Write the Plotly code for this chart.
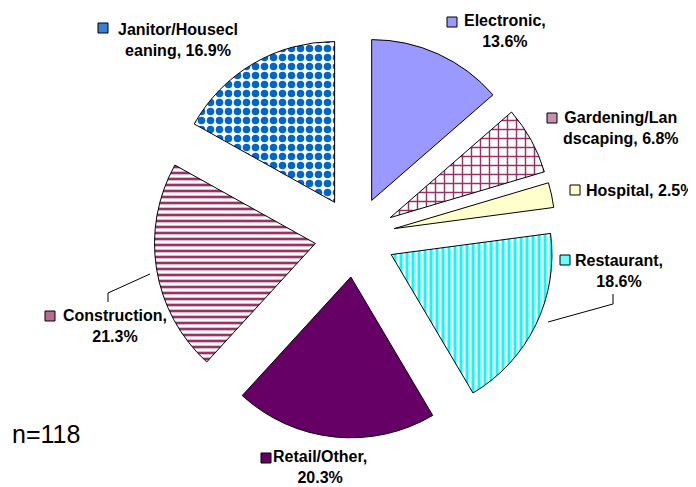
import plotly.graph_objects as go

# Data (clockwise from 12 o'clock)
labels = ["Electronic", "Gardening/Landscaping", "Hospital", "Restaurant",
          "Retail/Other", "Construction", "Janitor/Housecleaning"]
shares = [13.6, 6.8, 2.5, 18.6, 20.3, 21.3, 16.9]
label_text = ["Electronic,<br>13.6%", "Gardening/Lan<br>dscaping, 6.8%", "Hospital, 2.5%",
              "Restaurant,<br>18.6%", "Retail/Other,<br>20.3%", "Construction,<br>21.3%",
              "Janitor/Housecl<br>eaning, 16.9%"]
sample_note = "n=118"

W, H = 696, 487
OFF = 8  # page body margin

fill_bg = ["#9999FF", "#FFFFFF", "#FFFFCC", "#FFFFFF", "#660066", "#FFFFFF", "#FFFFFF"]
pat_fg = ["#9999FF", "#993366", "#FFFFCC", "#00FFFF", "#660066", "#993366", "#0066CC"]
pat_shape = ["", "+", "", "|", "", "-", "."]
pat_size = [8, 9, 8, 6, 8, 6, 9]
pat_solid = [0.3, 0.3, 0.3, 0.5, 0.3, 0.45, 0.55]
key_color = ["#9999FF", "#C98FAE", "#FFFFCC", "#66FFFF", "#660066", "#B96A92", "#3A7FD6"]


def px(x, y):
    # screen pixel -> paper coords
    return (x - OFF) / W, 1 - (y - OFF) / H


fig = go.Figure()

d0 = px(154, 438)
d1 = px(556, 36)
fig.add_trace(go.Pie(
    labels=labels,
    values=shares,
    sort=False,
    direction="clockwise",
    rotation=0,
    pull=0.25,
    textinfo="none",
    hoverinfo="label+percent",
    marker=dict(
        colors=fill_bg,
        line=dict(color="#000000", width=1),
        pattern=dict(shape=pat_shape, fgcolor=pat_fg, bgcolor=fill_bg,
                     size=pat_size, solidity=pat_solid, fillmode="replace"),
    ),
    domain=dict(x=[d0[0], d1[0]], y=[d0[1], d1[1]]),
    showlegend=False,
))

# label block centres and key square positions (screen pixels, left/top)
label_pos = [(505, 31), (621, 128), (640, 190), (619, 271), (320, 467), (115, 326), (178, 40)]
key_pos = [(447, 17), (547, 113), (570, 185), (560, 255), (261, 453), (45, 311), (98, 23)]

for i, txt in enumerate(label_text):
    x, y = px(*label_pos[i])
    fig.add_annotation(text="<b>" + txt + "</b>", x=x, y=y, xref="paper", yref="paper",
                       xanchor="center", yanchor="middle",
                       showarrow=False, align="center",
                       font=dict(family="Liberation Sans, Arial", size=16, color="#000000"))
    kx, ky = key_pos[i]
    x0, y0 = px(kx, ky)
    x1, y1 = px(kx + 10, ky + 10)
    fig.add_shape(type="rect", xref="paper", yref="paper", x0=x0, y0=y0, x1=x1, y1=y1,
                  fillcolor=key_color[i], line=dict(color="#000000", width=1))

# leader lines
for pts in [[(613, 294), (613, 304), (548, 322)], [(108, 302), (108, 293), (150, 274)]]:
    for (ax, ay), (bx, by) in zip(pts[:-1], pts[1:]):
        x0, y0 = px(ax, ay)
        x1, y1 = px(bx, by)
        fig.add_shape(type="line", xref="paper", yref="paper", x0=x0, y0=y0, x1=x1, y1=y1,
                      line=dict(color="#000000", width=1))

nx, ny = px(46, 434)
fig.add_annotation(text=sample_note, x=nx, y=ny, xref="paper", yref="paper", showarrow=False,
                   xanchor="center", yanchor="middle",
                   font=dict(family="Liberation Sans, Arial", size=25, color="#000000"))

fig.update_layout(
    width=W, height=H,
    margin=dict(l=0, r=0, t=0, b=0),
    paper_bgcolor="#FFFFFF",
    plot_bgcolor="#FFFFFF",
)

fig.write_html("out.html")
